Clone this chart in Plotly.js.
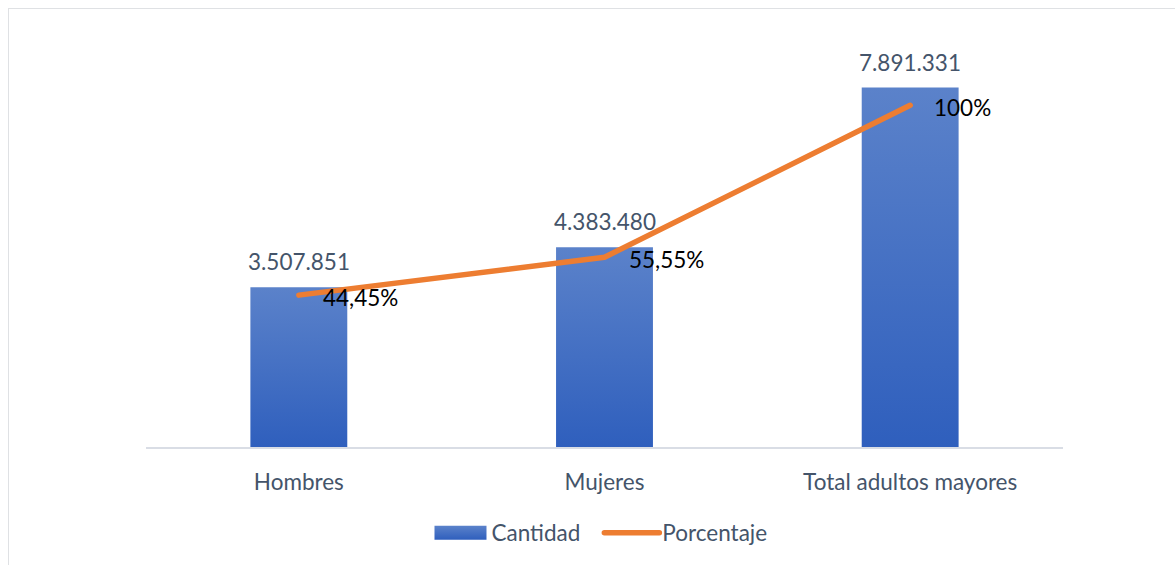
<!DOCTYPE html>
<html>
<head>
<meta charset="utf-8">
<script src="https://cdn.plot.ly/plotly-3.0.1.min.js"></script>
<style>
  html, body { margin: 0; padding: 0; background: #fff; }
  #wrap { position: relative; width: 1175px; height: 565px; }
  #chart { position: absolute; left: 0; top: 0; width: 1175px; height: 565px; }
  #frame { position: absolute; left: 8px; top: 8px; width: 1180px; height: 600px;
           border: 1.5px solid #dfe1e4; pointer-events: none; box-sizing: border-box; }
</style>
</head>
<body>
<div id="wrap">
  <div id="chart"></div>
  <div id="frame"></div>
</div>
<script>
const categories = ["Hombres", "Mujeres", "Total adultos mayores"];
const cantidad = [3507851, 4383480, 7891331];
const porcentaje = [44.45, 55.55, 100];
const seriesNames = ["Cantidad", "Porcentaje"];

const FONT = "Lato, 'Open Sans', sans-serif";
const FS = 22.5;
const LABEL_COLOR = "#44546a";

function fmtThousands(v) {
  return String(v).replace(/\B(?=(\d{3})+(?!\d))/g, ".");
}
function fmtPct(v) {
  return (Number.isInteger(v) ? String(v) : v.toFixed(2).replace(".", ",")) + "%";
}

const traces = [
  {
    type: "bar",
    name: seriesNames[0],
    x: categories,
    y: cantidad,
    marker: { color: "#4570c4" },
    hoverinfo: "skip"
  },
  {
    type: "scatter",
    mode: "lines",
    name: seriesNames[1],
    x: categories,
    y: porcentaje,
    yaxis: "y2",
    line: { color: "#ed7d31", width: 5.5 },
    hoverinfo: "skip"
  }
];

const annotations = [];
categories.forEach((c, i) => {
  annotations.push({
    x: c, y: cantidad[i], xref: "x", yref: "y",
    text: fmtThousands(cantidad[i]),
    showarrow: false, yanchor: "bottom", yshift: 10,
    font: { family: FONT, size: FS, color: LABEL_COLOR }
  });
  annotations.push({
    x: c, y: porcentaje[i], xref: "x", yref: "y2",
    text: fmtPct(porcentaje[i]),
    showarrow: false, xanchor: "left", yanchor: "middle", xshift: 22, yshift: -2,
    font: { family: FONT, size: FS, color: "#000000" }
  });
});

const layout = {
  width: 1175,
  height: 565,
  margin: { l: 146, r: 112, t: 37, b: 117 },
  paper_bgcolor: "#ffffff",
  plot_bgcolor: "#ffffff",
  font: { family: FONT, size: FS, color: LABEL_COLOR },
  bargap: 0.683,
  showlegend: true,
  legend: {
    orientation: "h",
    x: 0.488, xanchor: "center",
    y: -0.207, yanchor: "middle",
    font: { family: FONT, size: FS, color: LABEL_COLOR },
    itemwidth: 67,
    traceorder: "normal"
  },
  xaxis: {
    type: "category",
    showgrid: false,
    showline: true,
    linecolor: "#d9dde5",
    linewidth: 1.5,
    zeroline: false,
    ticks: "outside",
    ticklen: 14,
    tickcolor: "rgba(0,0,0,0)",
    tickfont: { family: FONT, size: FS, color: LABEL_COLOR },
    fixedrange: true
  },
  yaxis: {
    range: [0, 9000000],
    visible: false,
    showgrid: false,
    zeroline: false,
    fixedrange: true
  },
  yaxis2: {
    range: [0, 120],
    overlaying: "y",
    side: "right",
    visible: false,
    showgrid: false,
    zeroline: false,
    fixedrange: true
  },
  annotations: annotations
};

Plotly.newPlot("chart", traces, layout, { displayModeBar: false, staticPlot: true }).then(gd => {
  const svg = gd.querySelector("svg.main-svg");
  const ns = "http://www.w3.org/2000/svg";
  let defs = svg.querySelector("defs");
  if (!defs) { defs = document.createElementNS(ns, "defs"); svg.insertBefore(defs, svg.firstChild); }
  const grad = document.createElementNS(ns, "linearGradient");
  grad.setAttribute("id", "barGrad");
  grad.setAttribute("x1", "0"); grad.setAttribute("y1", "0");
  grad.setAttribute("x2", "0"); grad.setAttribute("y2", "1");
  [["0", "#5b82ca"], ["1", "#2f5fbd"]].forEach(([o, c]) => {
    const s = document.createElementNS(ns, "stop");
    s.setAttribute("offset", o); s.setAttribute("stop-color", c);
    grad.appendChild(s);
  });
  defs.appendChild(grad);
  gd.querySelectorAll(".barlayer .point path").forEach(p => { p.style.fill = "url(#barGrad)"; });
  gd.querySelectorAll(".scatterlayer .js-line").forEach(p => {
    p.style.strokeLinecap = "round"; p.style.strokeLinejoin = "round";
  });

  // Legend swatches shaped like the reference (wide box, long line)
  gd.querySelectorAll(".legend .traces").forEach(tr => {
    const txt = tr.querySelector("text.legendtext");
    if (!txt) return;
    const tx = parseFloat(txt.getAttribute("x")) || 0;
    const barPts = tr.querySelectorAll(".legendpoints path");
    const line = tr.querySelector(".legendlines path");
    if (line) {
      line.setAttribute("d", "M" + (tx - 58) + ",0h55");
      line.style.strokeLinecap = "round";
      line.style.strokeWidth = "5.5px";
    } else {
      barPts.forEach(p => {
        p.removeAttribute("transform");
        p.setAttribute("d", "M" + (tx - 57) + ",-7H" + (tx - 5) + "V7H" + (tx - 57) + "Z");
        p.style.fill = "url(#barGrad)";
        p.style.stroke = "none";
      });
    }
  });
});
</script>
</body>
</html>
